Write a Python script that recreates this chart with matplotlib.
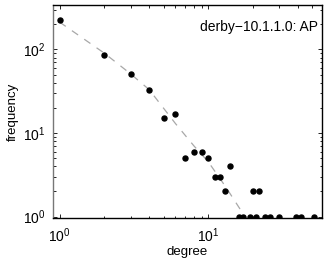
import matplotlib
matplotlib.use("Agg")
import matplotlib.pyplot as plt
from matplotlib.ticker import LogLocator, NullFormatter

plt.rcParams['font.family'] = ['Liberation Sans', 'DejaVu Sans']
plt.rcParams['mathtext.fontset'] = 'custom'
plt.rcParams['mathtext.rm'] = 'Liberation Sans'
plt.rcParams['mathtext.it'] = 'Liberation Sans'

# degree distribution
degree = [1, 2, 3, 4, 5, 6, 7, 8, 9, 10, 11, 12, 13, 14,
          16, 17, 19, 20, 21, 22, 24, 26, 30, 39, 42, 51]
frequency = [222, 85, 51, 33, 15, 17, 5, 6, 6, 5, 3, 3, 2, 4,
             1, 1, 1, 2, 1, 2, 1, 1, 1, 1, 1, 1]

# fitted curve (dashed)
fit_x = [1, 2, 3, 4, 6, 8, 10, 13, 17.6]
fit_y = [212, 90, 51, 33, 13, 7, 4.5, 2.3, 1.0]

title = "derby\u221210.1.1.0: AP"

fig = plt.figure(figsize=(3.32, 2.61), dpi=100)
ax = fig.add_axes([0.159, 0.165, 0.811, 0.816])

ax.plot(fit_x, fit_y, color='#a8a8a8', lw=0.9, dashes=(6, 6))
ax.plot(degree, frequency, 'o', color='black', ms=3.6, mec='black')

ax.set_xscale('log')
ax.set_yscale('log')
ax.set_xlim(0.9, 58)
ax.set_ylim(0.965, 340)

ax.xaxis.set_major_locator(LogLocator(base=10, numticks=10))
ax.yaxis.set_major_locator(LogLocator(base=10, numticks=10))
ax.xaxis.set_minor_locator(LogLocator(base=10, subs=range(2, 10), numticks=10))
ax.yaxis.set_minor_locator(LogLocator(base=10, subs=range(2, 10), numticks=10))
ax.xaxis.set_minor_formatter(NullFormatter())
ax.yaxis.set_minor_formatter(NullFormatter())

ax.tick_params(which='both', direction='in', top=True, right=True,
               labelsize=10, width=0.6)
ax.tick_params(which='major', length=3)
ax.tick_params(which='minor', length=1.8)
ax.tick_params(axis='x', which='major', pad=6)
ax.tick_params(axis='y', which='major', pad=5)
for s in ax.spines.values():
    s.set_linewidth(1.0)
ax.spines['left'].set_color('#777777')

ax.set_xlabel('degree', fontsize=9.5, labelpad=1)
ax.set_ylabel('frequency', fontsize=9.5, labelpad=3)
ax.text(0.985, 0.897, title, transform=ax.transAxes, ha='right', va='center',
        fontsize=10)

fig.savefig('out.png', dpi=100)
